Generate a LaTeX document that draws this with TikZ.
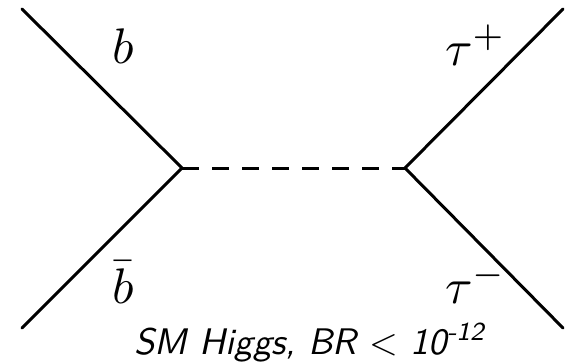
\documentclass[tikz,border=0pt]{standalone}
\begin{document}
\begin{tikzpicture}[x=1pt,y=-1pt,
  fermion/.style={line width=3pt,line cap=round},
  scalar/.style={line width=3pt,dash pattern=on 17pt off 13pt},
  lbl/.style={inner sep=0pt,anchor=base west,scale=5.0},
  captext/.style={inner sep=0pt,anchor=base,scale=3.7,font=\sffamily\itshape}]
\useasboundingbox (0,0) rectangle (568,364);
\coordinate (i1) at (22,9);
\coordinate (i2) at (22,328);
\coordinate (v1) at (182,168);
\coordinate (v2) at (405,168);
\coordinate (o1) at (563,9);
\coordinate (o2) at (563,328);
\draw[fermion] (i1) -- (v1) -- (i2);
\draw[fermion] (o1) -- (v2) -- (o2);
\draw[scalar] (v1) -- (v2);
\node[lbl] (lb) at (111,63) {$b$};
\node[lbl] (lbb) at (111,303) {$\bar b$};
\node[lbl] (ltp) at (444,65) {$\tau^+$};
\node[lbl] (ltm) at (444,303) {$\tau^-$};
\node[captext] (caption) at (310,354) {SM Higgs, BR $<$ 10\textsuperscript{-12}};
\end{tikzpicture}
\end{document}
